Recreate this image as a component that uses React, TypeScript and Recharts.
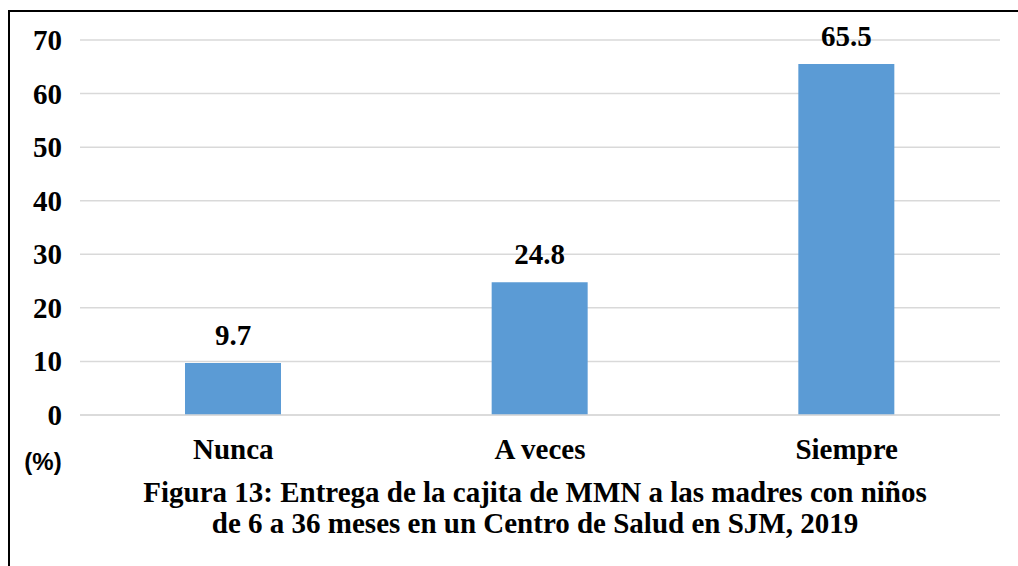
import React from 'react';
import { BarChart, Bar, XAxis, YAxis, CartesianGrid, LabelList } from 'recharts';

const categories = ['Nunca', 'A veces', 'Siempre'];
const percentages = [9.7, 24.8, 65.5];
const yTicks = [0, 10, 20, 30, 40, 50, 60, 70];
const titleLines = [
    'Figura 13: Entrega de la cajita de MMN a las madres con niños',
    'de 6 a 36 meses en un Centro de Salud en SJM, 2019',
];

const data = categories.map((name, i) => ({ name, value: percentages[i] }));

const serif = '"Liberation Serif", "Times New Roman", serif';

const YTick = ({ y, payload }: any) => (
    <text x={62} y={y} dy={10} textAnchor="end" fontFamily={serif} fontWeight="bold" fontSize={29} fill="#000">
        {payload.value}
    </text>
);

const XTick = ({ x, payload }: any) => (
    <text x={x} y={415} dy={44} textAnchor="middle" fontFamily={serif} fontWeight="bold" fontSize={29} fill="#000">
        {payload.value}
    </text>
);

export default function App() {
    return (
        <div style={{ position: 'absolute', left: 0, top: 0, width: 1018, height: 566, background: '#fff', overflow: 'hidden' }}>
            <BarChart width={1018} height={566} data={data} margin={{ top: 40, right: 18, left: 0, bottom: 0 }}>
                <CartesianGrid vertical={false} stroke="#d9d9d9" strokeWidth={1.5} />
                <XAxis
                    dataKey="name"
                    height={151}
                    axisLine={{ stroke: '#d9d9d9', strokeWidth: 1.5 }}
                    tickLine={false}
                    tick={<XTick />}
                    interval={0}
                />
                <YAxis
                    width={80}
                    domain={[0, 70]}
                    ticks={yTicks}
                    axisLine={false}
                    tickLine={false}
                    tick={<YTick />}
                    interval={0}
                />
                <Bar dataKey="value" fill="#5b9bd5" barSize={96} isAnimationActive={false}>
                    <LabelList
                        dataKey="value"
                        position="top"
                        offset={18}
                        fontFamily={serif}
                        fontWeight="bold"
                        fontSize={29}
                        fill="#000"
                    />
                </Bar>
            </BarChart>
            <svg width={1018} height={566} style={{ position: 'absolute', left: 0, top: 0, pointerEvents: 'none' }}>
                <rect x={9} y={11} width={1200} height={800} fill="none" stroke="#000" strokeWidth={2} />
                <text x={43} y={470} textAnchor="middle" fontFamily='"Liberation Sans", Arial, sans-serif' fontWeight="bold" fontSize={24} fill="#000">
                    (%)
                </text>
                {titleLines.map((line, i) => (
                    <text key={i} x={535} y={502 + i * 31} textAnchor="middle" fontFamily={serif} fontWeight="bold" fontSize={29} fill="#000">
                        {line}
                    </text>
                ))}
            </svg>
        </div>
    );
}
